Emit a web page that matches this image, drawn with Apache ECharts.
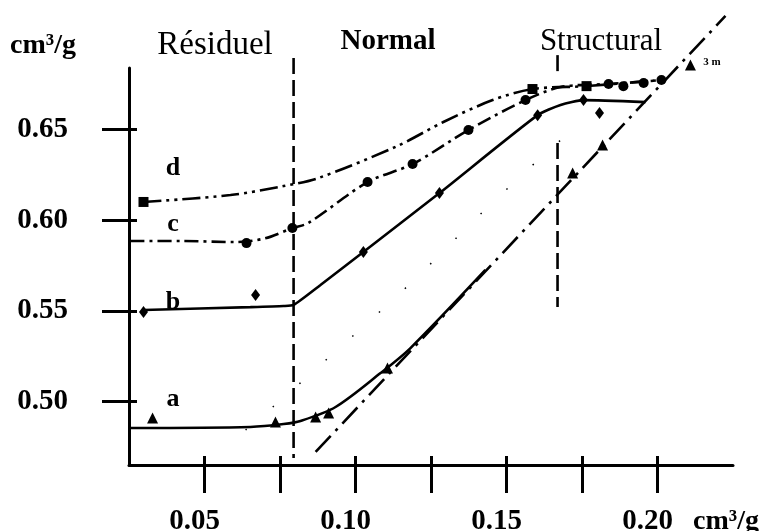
<!DOCTYPE html>
<html>
<head>
<meta charset="utf-8">
<script src="https://cdn.jsdelivr.net/npm/echarts@6/dist/echarts.min.js"></script>
<style>
  html, body { margin: 0; padding: 0; background: #fff; }
  #chart { width: 770px; height: 531px; }
</style>
</head>
<body>
<div id="chart"></div>
<script>
// axes
var xTicks = [0.05, 0.075, 0.10, 0.125, 0.15, 0.175, 0.20]
var xLabels = [0.05, 0.10, 0.15, 0.20]
var yTicks = [0.50, 0.55, 0.60, 0.65]

// curve a (solid, triangles)
var aLineX = [0.0255, 0.0652, 0.0762, 0.0818, 0.0934, 0.1083, 0.1182, 0.1430]
var aLineY = [0.4854, 0.4860, 0.4876, 0.4893, 0.4970, 0.5157, 0.5295, 0.5726]
var aMarkX = [0.0328, 0.0735, 0.0868, 0.0911, 0.1106, 0.1719, 0.1818, 0.2109]
var aMarkY = [0.4909, 0.4887, 0.4915, 0.4937, 0.5185, 0.6261, 0.6415, 0.6856]

// curve b (solid, diamonds)
var bLineX = [0.0298, 0.0652, 0.0762, 0.0795, 0.0884, 0.1026, 0.1278, 0.1603, 0.1679, 0.1755, 0.1960]
var bLineY = [0.5505, 0.5521, 0.5527, 0.5533, 0.5643, 0.5825, 0.6150, 0.6580, 0.6636, 0.6663, 0.6652]
var bMarkX = [0.0298, 0.0669, 0.1026, 0.1278, 0.1603, 0.1755, 0.1808]
var bMarkY = [0.5494, 0.5588, 0.5825, 0.6150, 0.6580, 0.6663, 0.6592]

// curve c (dash-dot, circles)
var cLineX = [0.0255, 0.0421, 0.0600, 0.0700, 0.0791, 0.0844, 0.1040, 0.1189, 0.1374, 0.1563, 0.1679, 0.1838, 0.2025]
var cLineY = [0.5886, 0.5886, 0.5880, 0.5900, 0.5957, 0.5985, 0.6211, 0.6310, 0.6498, 0.6663, 0.6735, 0.6752, 0.6774]
var cMarkX = [0.0639, 0.0791, 0.1040, 0.1189, 0.1374, 0.1563, 0.1838, 0.1887, 0.1954, 0.2013]
var cMarkY = [0.5874, 0.5957, 0.6211, 0.6310, 0.6498, 0.6663, 0.6752, 0.6740, 0.6757, 0.6774]

// curve d (dash-dot-dot, squares)
var dLineX = [0.0298, 0.0586, 0.0762, 0.0877, 0.1139, 0.1291, 0.1454, 0.1586, 0.1765, 0.2013]
var dLineY = [0.6101, 0.6139, 0.6189, 0.6233, 0.6410, 0.6542, 0.6663, 0.6724, 0.6740, 0.6774]
var dMarkX = [0.0298, 0.1586, 0.1765]
var dMarkY = [0.6101, 0.6724, 0.6740]

// straight asymptote (dash-dot)
var diagX = [0.0868, 0.2225]
var diagY = [0.4722, 0.7127]

// faint dotted curve
var dotX = [0.0636, 0.0745, 0.0884, 0.1123, 0.1228, 0.1407, 0.1623, 0.1745]
var dotY = [0.4843, 0.4997, 0.5202, 0.5560, 0.5726, 0.6023, 0.6360, 0.6536]

// domain limits (vertical dashed)
var residuelX = 0.0795
var residuelY = [0.6895, 0.4689]
var structX = 0.1669
var structUpperY = [0.6911, 0.6790]
var structLowerY = [0.6426, 0.5521]

function zip(xs, ys) {
  return xs.map(function (x, i) { return [x, ys[i]] })
}
function vline(x, ys) {
  return ys.map(function (y) { return [x, y] })
}

var serif = 'Liberation Serif'

function curve(data, type, smooth, width) {
  return {
    type: 'line',
    data: data,
    showSymbol: false,
    smooth: smooth,
    clip: false,
    silent: true,
    lineStyle: { color: '#000', width: width || 2.6, type: type, opacity: 1 }
  }
}
function marks(data, symbol, size) {
  return {
    type: 'scatter',
    data: data,
    symbol: symbol,
    symbolSize: size,
    clip: false,
    silent: true,
    itemStyle: { color: '#000', opacity: 1 }
  }
}

var chartDom = document.getElementById('chart')
var myChart = echarts.init(chartDom)
var option

option = {
  animation: false,
  backgroundColor: '#fff',
  grid: { left: 129, right: 37, top: 68, bottom: 66, containLabel: false, outerBoundsMode: 'none' },
  xAxis: [
    {
      type: 'value',
      position: 'bottom',
      min: 0.025,
      max: 0.225,
      axisLine: { show: true, onZero: false, lineStyle: { color: '#000', width: 3 } },
      axisTick: { show: true, length: 28, customValues: xTicks, lineStyle: { color: '#000', width: 3 } },
      axisLabel: {
        customValues: xLabels,
        margin: 42,
        padding: [0, 20, 0, 0],
        color: '#000',
        fontFamily: serif,
        fontWeight: 'bold',
        fontSize: 29,
        formatter: function (v) { return v.toFixed(2) }
      },
      splitLine: { show: false }
    },
    {
      type: 'value',
      position: 'bottom',
      min: 0.025,
      max: 0.225,
      axisLine: { show: false, onZero: false },
      axisTick: { show: true, inside: true, length: 9, customValues: xTicks, lineStyle: { color: '#000', width: 3 } },
      axisLabel: { show: false },
      splitLine: { show: false }
    }
  ],
  yAxis: [
    {
      type: 'value',
      position: 'left',
      min: 0.465,
      max: 0.684,
      axisLine: { show: true, onZero: false, lineStyle: { color: '#000', width: 3 } },
      axisTick: { show: true, length: 27, customValues: yTicks, lineStyle: { color: '#000', width: 3 } },
      axisLabel: {
        customValues: yTicks,
        margin: 61,
        color: '#000',
        fontFamily: serif,
        fontWeight: 'bold',
        fontSize: 29,
        formatter: function (v) { return v.toFixed(2) }
      },
      splitLine: { show: false }
    },
    {
      type: 'value',
      position: 'left',
      min: 0.465,
      max: 0.684,
      axisLine: { show: false, onZero: false },
      axisTick: { show: true, inside: true, length: 8, customValues: yTicks, lineStyle: { color: '#000', width: 3 } },
      axisLabel: { show: false },
      splitLine: { show: false }
    }
  ],
  series: [
    curve(vline(residuelX, residuelY), [16, 6], false),
    curve(vline(structX, structUpperY), [16, 6], false),
    curve(vline(structX, structLowerY), [16, 6], false),
    curve(zip(diagX, diagY), [22, 7, 3, 7], false),
    curve(zip(dotX, dotY), [1.5, 34], 0.3, 1.5),
    curve(zip(aLineX, aLineY), 'solid', 0.3),
    curve(zip(bLineX, bLineY), 'solid', 0.2),
    curve(zip(cLineX, cLineY), [14, 5, 3, 5], 0.3),
    curve(zip(dLineX, dLineY), [18, 5, 3, 5, 3, 5], 0.3),
    marks(zip(aMarkX, aMarkY), 'triangle', 11),
    marks(zip(bMarkX, bMarkY), 'diamond', [9, 12]),
    marks(zip(cMarkX, cMarkY), 'circle', 10),
    marks(zip(dMarkX, dMarkY), 'rect', 10)
  ],
  graphic: [
    { type: 'text', x: 10, y: 46, style: { text: 'cm³/g', font: 'bold 28px ' + serif, fill: '#000', textVerticalAlign: 'middle' } },
    { type: 'text', x: 215, y: 45, style: { text: 'Résiduel', font: '33px ' + serif, fill: '#000', textAlign: 'center', textVerticalAlign: 'middle' } },
    { type: 'text', x: 388, y: 42, style: { text: 'Normal', font: 'bold 29px ' + serif, fill: '#000', textAlign: 'center', textVerticalAlign: 'middle' } },
    { type: 'text', x: 601, y: 42, style: { text: 'Structural', font: '31px ' + serif, fill: '#000', textAlign: 'center', textVerticalAlign: 'middle' } },
    { type: 'text', x: 173, y: 168, style: { text: 'd', font: 'bold 26px ' + serif, fill: '#000', textAlign: 'center', textVerticalAlign: 'middle' } },
    { type: 'text', x: 173, y: 224, style: { text: 'c', font: 'bold 26px ' + serif, fill: '#000', textAlign: 'center', textVerticalAlign: 'middle' } },
    { type: 'text', x: 173, y: 302, style: { text: 'b', font: 'bold 26px ' + serif, fill: '#000', textAlign: 'center', textVerticalAlign: 'middle' } },
    { type: 'text', x: 173, y: 399, style: { text: 'a', font: 'bold 26px ' + serif, fill: '#000', textAlign: 'center', textVerticalAlign: 'middle' } },
    { type: 'text', x: 712, y: 62, style: { text: '3 m', font: 'bold 11px ' + serif, fill: '#000', textAlign: 'center', textVerticalAlign: 'middle' } },
    { type: 'text', x: 693, y: 522, style: { text: 'cm³/g', font: 'bold 28px ' + serif, fill: '#000', textVerticalAlign: 'middle' } }
  ]
}
option && myChart.setOption(option)
</script>
</body>
</html>
